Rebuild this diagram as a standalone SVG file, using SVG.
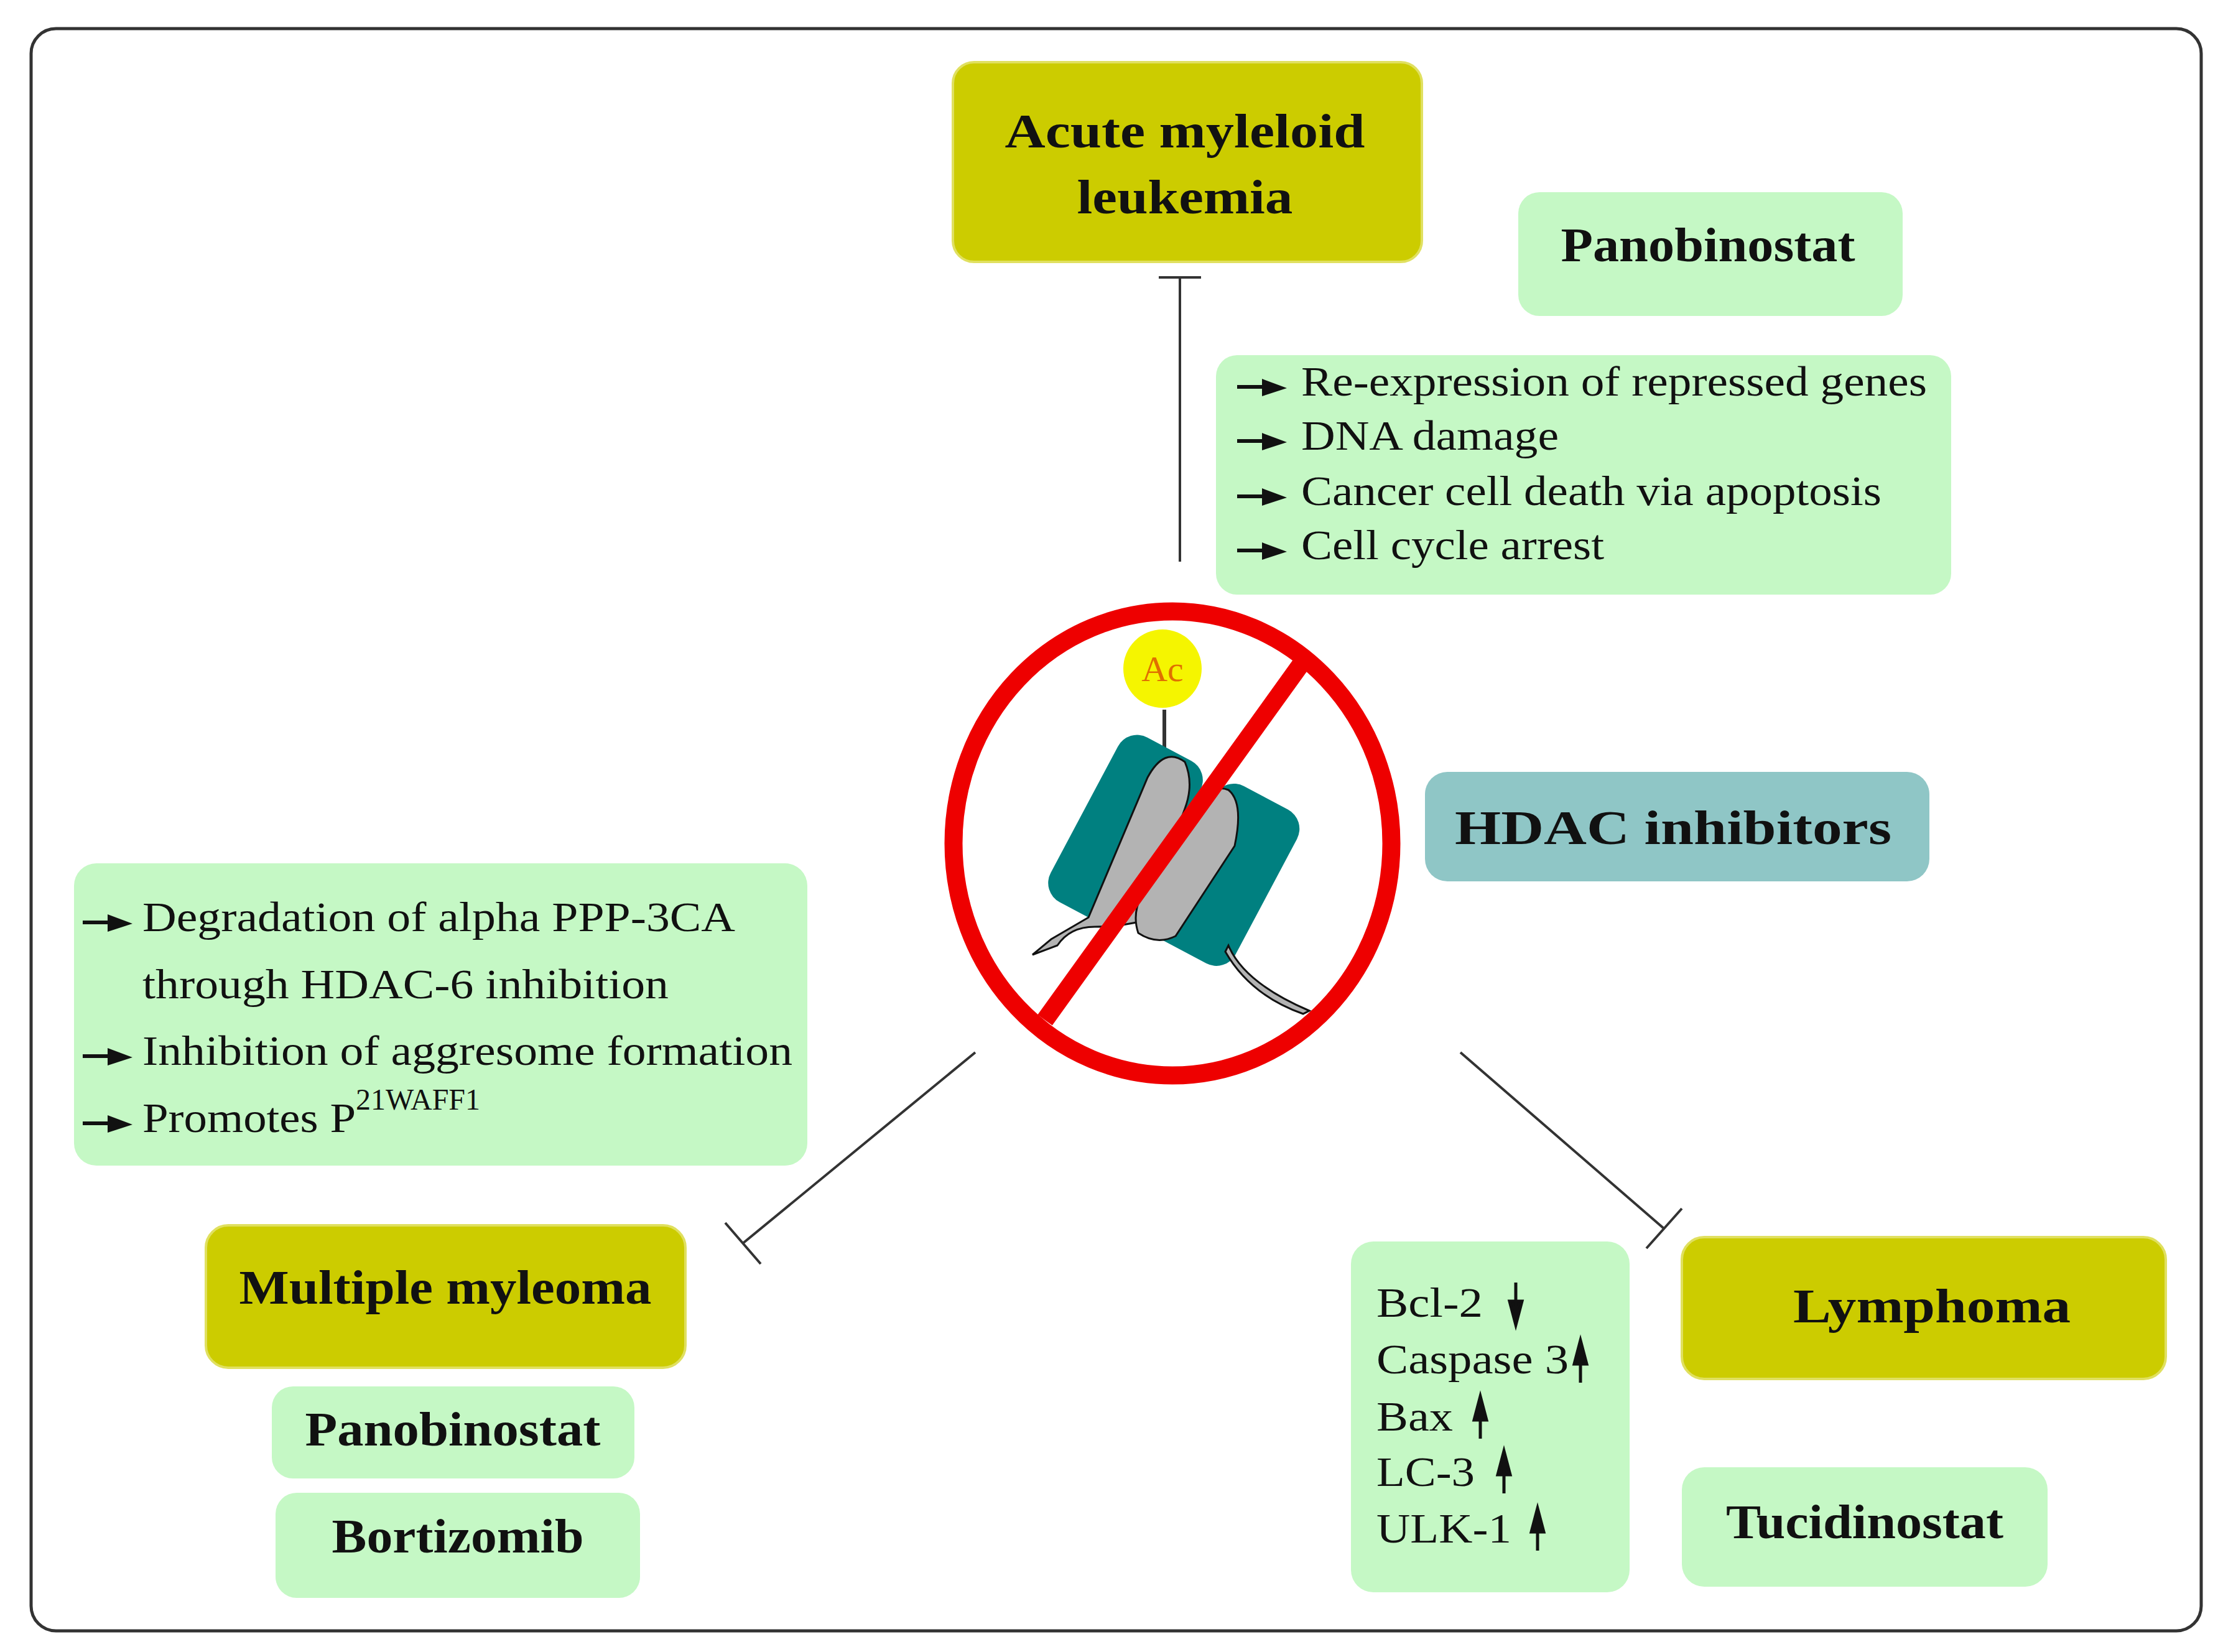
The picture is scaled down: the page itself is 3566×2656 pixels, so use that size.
<svg xmlns="http://www.w3.org/2000/svg" xmlns:xlink="http://www.w3.org/1999/xlink" width="3566" height="2656" viewBox="0 0 3566 2656">
<style>
.dis{fill:#cccc00;stroke:#e0e060;stroke-width:4}
.grn{fill:#c5f8c5}
.hd{fill:#8fc6c6}
.tb{font-family:"Liberation Serif",serif;font-weight:bold;font-size:78px;fill:#111;text-anchor:middle;dominant-baseline:central}
.tl{font-family:"Liberation Serif",serif;font-size:68px;fill:#111;dominant-baseline:central}
.con{stroke:#333;stroke-width:4;fill:none}
</style>
<defs>
<g id="arr"><path d="M0,0 H55" stroke="#111" stroke-width="6"/><path d="M40,-13 L80,2 L40,15 Z" fill="#111"/></g>
<g id="up"><path d="M0,-30 L-10,8 L10,8 Z M0,0 V38" fill="#111" stroke="#111" stroke-width="5"/></g>
</defs>
<rect x="50" y="46" width="3489" height="2576" rx="40" fill="#fff" stroke="#333" stroke-width="5"/>

<g id="connectors">
<path class="con" d="M1897,446 V903 M1863,446 H1931" stroke-width="6"/>
<path class="con" d="M1568,1692 L1193,2000 M1166,1966 L1223,2032"/>
<path class="con" d="M2348,1692 L2675,1975 M2647,2007 L2704,1943"/>
</g>

<g id="aml"><rect class="dis" x="1532" y="100" width="754" height="321" rx="34"/>
<text class="tb" x="1905" y="210" textLength="579" lengthAdjust="spacingAndGlyphs">Acute myleloid</text><text class="tb" x="1905" y="316" textLength="347" lengthAdjust="spacingAndGlyphs">leukemia</text></g>

<g id="pano1"><rect class="grn" x="2441" y="309" width="618" height="199" rx="34"/><text class="tb" x="2746" y="393" textLength="473" lengthAdjust="spacingAndGlyphs">Panobinostat</text></g>

<g id="effects1"><rect class="grn" x="1955" y="571" width="1182" height="385" rx="34"/>
<use xlink:href="#arr" x="1989" y="622"/><text class="tl" x="2092" y="613" textLength="1006" lengthAdjust="spacingAndGlyphs">Re-expression of repressed genes</text>
<use xlink:href="#arr" x="1989" y="709"/><text class="tl" x="2092" y="700" textLength="414" lengthAdjust="spacingAndGlyphs">DNA damage</text>
<use xlink:href="#arr" x="1989" y="798"/><text class="tl" x="2092" y="789" textLength="933" lengthAdjust="spacingAndGlyphs">Cancer cell death via apoptosis</text>
<use xlink:href="#arr" x="1989" y="885"/><text class="tl" x="2092" y="876" textLength="487" lengthAdjust="spacingAndGlyphs">Cell cycle arrest</text></g>

<g id="hdac-icon">
<line x1="1872" y1="1141" x2="1872" y2="1212" stroke="#333" stroke-width="6"/>
<rect x="1735" y="1185" width="150" height="300" rx="35" fill="#008080" transform="rotate(28 1806 1335)"/>
<rect x="1895" y="1265" width="150" height="280" rx="35" fill="#008080" transform="rotate(28 1967 1405)"/>
<path d="M1660,1535 L1690,1510 L1750,1475 L1845,1250 Q1872,1200 1905,1225 Q1920,1260 1905,1300 L1840,1480 Q1800,1490 1760,1490 Q1720,1490 1700,1520 Z" fill="#b3b3b3" stroke="#111" stroke-width="3"/>
<path d="M1975,1270 Q2000,1290 1985,1360 L1890,1505 Q1860,1520 1830,1500 Q1820,1470 1835,1440 L1935,1280 Q1955,1262 1975,1270 Z" fill="#b3b3b3" stroke="#111" stroke-width="3"/>
<path d="M1975,1520 Q2000,1580 2105,1625 L2095,1630 Q2010,1600 1970,1530 Z" fill="#b3b3b3" stroke="#111" stroke-width="3"/>
<circle cx="1869" cy="1075" r="63" fill="#f5f500"/>
<text x="1869" y="1075" font-family="Liberation Serif,serif" font-size="58" fill="#e07000" text-anchor="middle" dominant-baseline="central">Ac</text>
<ellipse cx="1885" cy="1356" rx="352" ry="373" fill="none" stroke="#ee0000" stroke-width="29"/>
<line x1="2093" y1="1066" x2="1680" y2="1640" stroke="#ee0000" stroke-width="29"/>
</g>

<g id="hdac"><rect class="hd" x="2291" y="1241" width="811" height="176" rx="36"/><text class="tb" x="2690" y="1330" textLength="702" lengthAdjust="spacingAndGlyphs">HDAC inhibitors</text></g>

<g id="effects2"><rect class="grn" x="119" y="1388" width="1179" height="486" rx="36"/>
<use xlink:href="#arr" x="133" y="1483"/><text class="tl" x="229" y="1474" textLength="953" lengthAdjust="spacingAndGlyphs">Degradation of alpha PPP-3CA</text>
<text class="tl" x="229" y="1582" textLength="846" lengthAdjust="spacingAndGlyphs">through HDAC-6 inhibition</text>
<use xlink:href="#arr" x="133" y="1698"/><text class="tl" x="229" y="1689" textLength="1045" lengthAdjust="spacingAndGlyphs">Inhibition of aggresome formation</text>
<use xlink:href="#arr" x="133" y="1806"/><text class="tl" x="229" y="1797"><tspan textLength="343" lengthAdjust="spacingAndGlyphs">Promotes P</tspan><tspan font-size="48" dy="-30">21WAFF1</tspan></text></g>

<g id="mm"><rect class="dis" x="331" y="1970" width="771" height="229" rx="36"/><text class="tb" x="716" y="2069" textLength="663" lengthAdjust="spacingAndGlyphs">Multiple myleoma</text></g>
<g id="pano2"><rect class="grn" x="437" y="2229" width="583" height="148" rx="34"/><text class="tb" x="728" y="2297" textLength="475" lengthAdjust="spacingAndGlyphs">Panobinostat</text></g>
<g id="bort"><rect class="grn" x="443" y="2400" width="586" height="169" rx="34"/><text class="tb" x="736" y="2469" textLength="405" lengthAdjust="spacingAndGlyphs">Bortizomib</text></g>

<g id="lymph"><rect class="dis" x="2704" y="1989" width="778" height="228" rx="36"/><text class="tb" x="3106" y="2099" textLength="446" lengthAdjust="spacingAndGlyphs">Lymphoma</text></g>
<g id="tuci"><rect class="grn" x="2704" y="2359" width="588" height="192" rx="36"/><text class="tb" x="2998" y="2446" textLength="446" lengthAdjust="spacingAndGlyphs">Tucidinostat</text></g>

<g id="markers"><rect class="grn" x="2172" y="1996" width="448" height="564" rx="36"/>
<text class="tl" x="2213" y="2094" textLength="171" lengthAdjust="spacingAndGlyphs">Bcl-2</text><use xlink:href="#up" transform="translate(2437,2100) rotate(180)"/>
<text class="tl" x="2213" y="2185" textLength="309" lengthAdjust="spacingAndGlyphs">Caspase 3</text><use xlink:href="#up" x="2541" y="2185"/>
<text class="tl" x="2213" y="2277" textLength="123" lengthAdjust="spacingAndGlyphs">Bax</text><use xlink:href="#up" x="2380" y="2275"/>
<text class="tl" x="2213" y="2366" textLength="158" lengthAdjust="spacingAndGlyphs">LC-3</text><use xlink:href="#up" x="2418" y="2363"/>
<text class="tl" x="2213" y="2457" textLength="217" lengthAdjust="spacingAndGlyphs">ULK-1</text><use xlink:href="#up" x="2472" y="2455"/></g>
</svg>
